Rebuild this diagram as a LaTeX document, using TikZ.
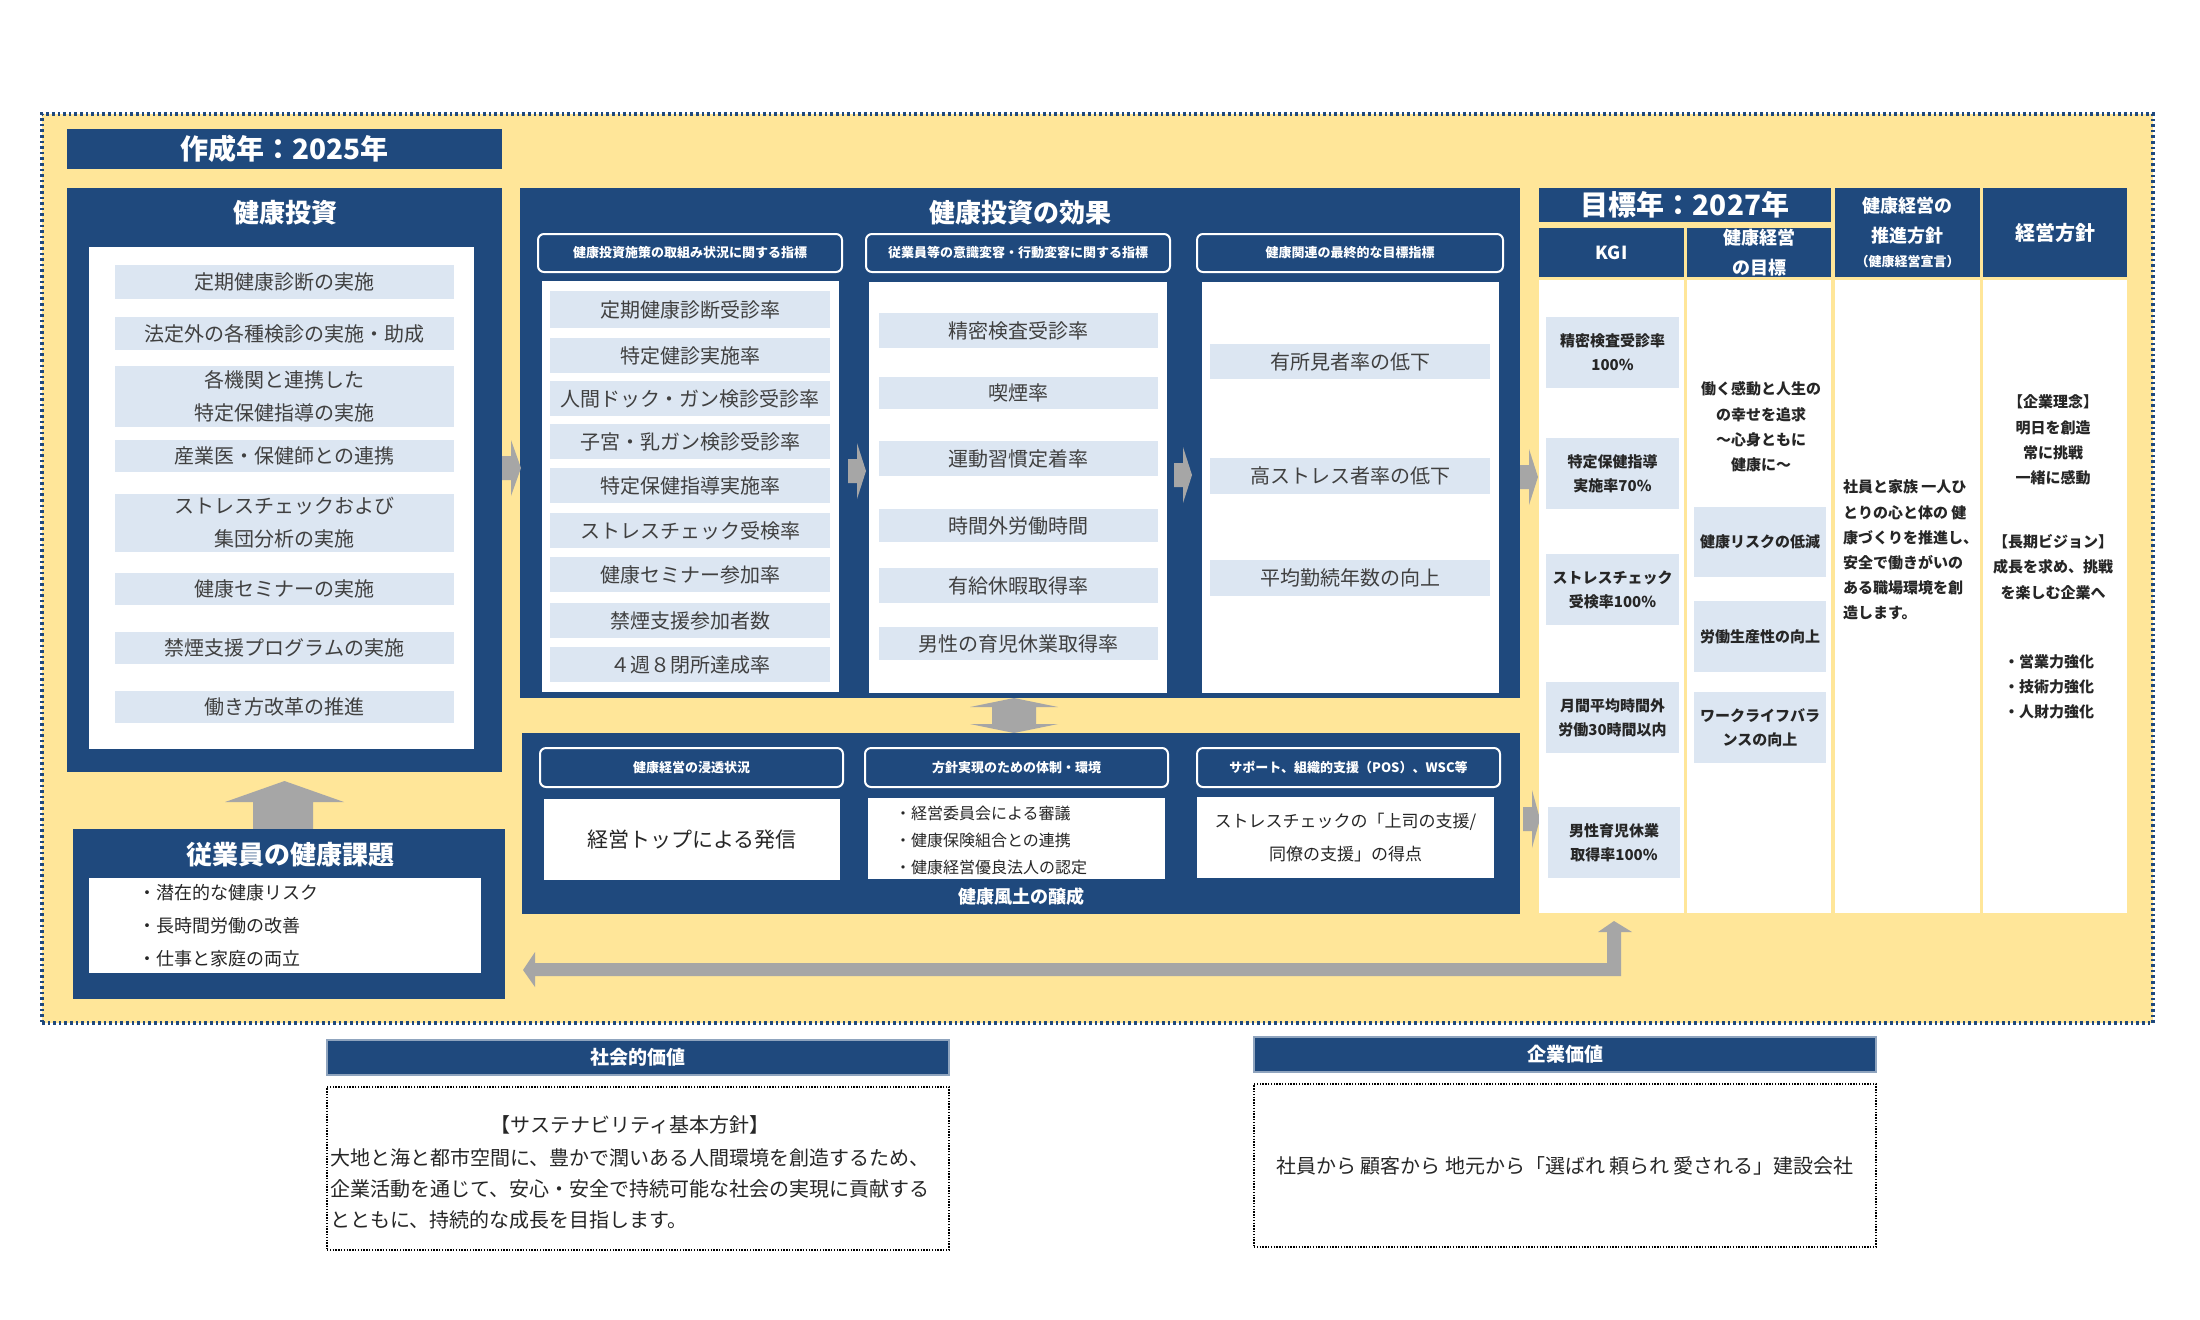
\documentclass[tikz,border=0pt]{standalone}
\usepackage{fontspec}
\setmainfont{Noto Sans CJK JP}
\definecolor{navy}{HTML}{1F497D}
\definecolor{lblue}{HTML}{DCE6F2}
\definecolor{ylw}{HTML}{FFE699}
\definecolor{agray}{HTML}{A6A6A6}
\definecolor{txt}{HTML}{404040}
\definecolor{dtxt}{HTML}{262626}
\newcommand\mybox[7][]{\node[#1, minimum width={(#5-#3)*0.5pt}, minimum height={(#6-#4)*0.5pt}] (#2) at ({(#3+#5)/2},{(#4+#6)/2}) {#7};}
\tikzset{
 base/.style={inner sep=0pt, outer sep=0pt, draw=none},
 navybox/.style={base, fill=navy},
 whitebox/.style={base, fill=white},
 item/.style={base, fill=lblue, text=txt, font=\fontsize{10}{16.5}\selectfont, align=center},
 kitem/.style={base, fill=lblue, text=dtxt, font=\fontsize{7.5}{12}\selectfont\bfseries, align=center},
 subhdr/.style={base, fill=navy, draw=white, line width=1pt, rounded corners=3pt, text=white, font=\fontsize{6.5}{8}\selectfont\bfseries},
 ttl/.style={base, text=white, font=\fontsize{13}{15}\selectfont\bfseries},
 hdr/.style={base, fill=navy, text=white, font=\fontsize{9}{15}\selectfont\bfseries, align=center},
 rtxt/.style={base, text=dtxt, font=\fontsize{7.5}{12.6}\selectfont\bfseries},
 arr/.style={fill=agray, draw=none},
 dotbox/.style={base, draw=black, line width=0.7pt, dash pattern=on 0.7pt off 0.7pt, fill=white},
}
\begin{document}
\begin{tikzpicture}[x=0.5pt,y=-0.5pt]
\useasboundingbox (0,0) rectangle (2200,1319);
% outer frame
\mybox[base, fill=ylw, draw=navy, line width=1.6pt, dash pattern=on 1.3pt off 1.5pt]{outer}{42}{114}{2153}{1023}{}
% ---------------- left
\mybox[navybox, text=white, font=\fontsize{14}{16}\selectfont\bfseries]{sakusei}{67}{129}{502}{169}{作成年：2025年}
\mybox[navybox]{toushi}{67}{188}{502}{772}{}
\node[ttl] (toushit) at (285,213) {健康投資};
\mybox[whitebox]{toushiw}{89}{247}{474}{749}{}
\mybox[item]{L1}{115}{265}{454}{299}{定期健康診断の実施}
\mybox[item]{L2}{115}{317}{454}{350}{法定外の各種検診の実施・助成}
\mybox[item]{L3}{115}{366}{454}{427}{各機関と連携した\\特定保健指導の実施}
\mybox[item]{L4}{115}{440}{454}{472}{産業医・保健師との連携}
\mybox[item]{L5}{115}{494}{454}{552}{ストレスチェックおよび\\集団分析の実施}
\mybox[item]{L6}{115}{573}{454}{605}{健康セミナーの実施}
\mybox[item]{L7}{115}{632}{454}{664}{禁煙支援プログラムの実施}
\mybox[item]{L8}{115}{691}{454}{723}{働き方改革の推進}
% up arrow
\fill[arr] (284.5,781) -- (344,802) -- (313,802) -- (313,829) -- (253,829) -- (253,802) -- (225,802) -- cycle;
% employee issues
\mybox[navybox]{kadai}{73}{829}{505}{999}{}
\node[ttl] (kadait) at (290,855) {従業員の健康課題};
\mybox[whitebox]{kadaiw}{89}{878}{481}{973}{}
\node[base, anchor=west, text=dtxt, font=\fontsize{9}{16.5}\selectfont, align=left] (kadaitx) at (138,926) {・潜在的な健康リスク\\・長時間労働の改善\\・仕事と家庭の両立};
% ---------------- middle top
\mybox[navybox]{kouka}{520}{188}{1520}{698}{}
\node[ttl] (koukat) at (1020,213) {健康投資の効果};
\mybox[subhdr]{S1}{538}{234}{842}{272}{健康投資施策の取組み状況に関する指標}
\mybox[subhdr]{S2}{866}{234}{1170}{272}{従業員等の意識変容・行動変容に関する指標}
\mybox[subhdr]{S3}{1197}{234}{1503}{272}{健康関連の最終的な目標指標}
\mybox[whitebox]{W1}{542}{281}{839}{692}{}
\mybox[whitebox]{W2}{869}{282}{1167}{693}{}
\mybox[whitebox]{W3}{1202}{282}{1499}{693}{}
\mybox[item]{A1}{550}{291}{830}{328}{定期健康診断受診率}
\mybox[item]{A2}{550}{338}{830}{373}{特定健診実施率}
\mybox[item]{A3}{550}{381}{830}{416}{人間ドック・ガン検診受診率}
\mybox[item]{A4}{550}{424}{830}{459}{子宮・乳ガン検診受診率}
\mybox[item]{A5}{550}{468}{830}{503}{特定保健指導実施率}
\mybox[item]{A6}{550}{513}{830}{548}{ストレスチェック受検率}
\mybox[item]{A7}{550}{557}{830}{592}{健康セミナー参加率}
\mybox[item]{A8}{550}{603}{830}{638}{禁煙支援参加者数}
\mybox[item]{A9}{550}{647}{830}{682}{４週８閉所達成率}
\mybox[item]{B1}{879}{313}{1158}{348}{精密検査受診率}
\mybox[item]{B2}{879}{377}{1158}{409}{喫煙率}
\mybox[item]{B3}{879}{441}{1158}{476}{運動習慣定着率}
\mybox[item]{B4}{879}{509}{1158}{542}{時間外労働時間}
\mybox[item]{B5}{879}{568}{1158}{603}{有給休暇取得率}
\mybox[item]{B6}{879}{627}{1158}{660}{男性の育児休業取得率}
\mybox[item]{C1}{1210}{344}{1490}{379}{有所見者率の低下}
\mybox[item]{C2}{1210}{458}{1490}{494}{高ストレス者率の低下}
\mybox[item]{C3}{1210}{560}{1490}{596}{平均勤続年数の向上}
% right block arrows
\fill[arr] (502,456) -- (511,456) -- (511,440) -- (521,468) -- (511,496) -- (511,480) -- (502,480) -- cycle;
\fill[arr] (848,459) -- (857,459) -- (857,443) -- (866,471) -- (857,499) -- (857,483) -- (848,483) -- cycle;
\fill[arr] (1174,463) -- (1183,463) -- (1183,447) -- (1192,475) -- (1183,503) -- (1183,487) -- (1174,487) -- cycle;
\fill[arr] (1520,465) -- (1529,465) -- (1529,449) -- (1538,477) -- (1529,505) -- (1529,489) -- (1520,489) -- cycle;
% double arrow
\fill[arr] (1014,698) -- (1058,707) -- (1036,707) -- (1036,724) -- (1058,724) -- (1014,733) -- (970,724) -- (992,724) -- (992,707) -- (970,707) -- cycle;
% ---------------- middle bottom
\mybox[navybox]{fudo}{522}{733}{1520}{914}{}
\mybox[subhdr]{D1}{540}{748}{843}{787}{健康経営の浸透状況}
\mybox[subhdr]{D2}{865}{748}{1168}{787}{方針実現のための体制・環境}
\mybox[subhdr]{D3}{1197}{748}{1500}{787}{サポート、組織的支援（POS）、WSC等}
\mybox[whitebox, text=dtxt, font=\fontsize{10.5}{12}\selectfont]{E1}{544}{799}{840}{880}{経営トップによる発信}
\mybox[whitebox]{E2}{868}{798}{1165}{879}{}
\node[base, anchor=west, text=dtxt, font=\fontsize{8}{13.5}\selectfont, align=left] (E2t) at (895,840) {・経営委員会による審議\\・健康保険組合との連携\\・健康経営優良法人の認定};
\mybox[whitebox, text=dtxt, font=\fontsize{8.5}{16.5}\selectfont, align=center]{E3}{1197}{797}{1494}{878}{ストレスチェックの「上司の支援/\\同僚の支援」の得点}
\node[base, text=white, font=\fontsize{9}{11}\selectfont\bfseries] (fudot) at (1021,897) {健康風土の醸成};
\fill[arr] (1523,807) -- (1532,807) -- (1532,790) -- (1540,819) -- (1532,848) -- (1532,831) -- (1523,831) -- cycle;
% feedback arrow
\fill[arr] (1614,921) -- (1632,932) -- (1621,932) -- (1621,976) -- (535,976) -- (535,987) -- (523,970) -- (535,952) -- (535,963) -- (1607,963) -- (1607,932) -- (1598,932) -- cycle;
% ---------------- right table
\mybox[navybox, text=white, font=\fontsize{14}{16}\selectfont\bfseries]{mokuhyo}{1539}{188}{1831}{222}{目標年：2027年}
\mybox[hdr]{H1}{1539}{228}{1684}{277}{KGI}
\mybox[hdr]{H2}{1687}{228}{1831}{277}{健康経営\\の目標}
\mybox[hdr]{H3}{1835}{188}{1980}{277}{健康経営の\\推進方針\\[-3pt]{\fontsize{6.5}{8}\selectfont（健康経営宣言）}}
\mybox[hdr, font=\fontsize{10}{12}\selectfont\bfseries]{H4}{1983}{188}{2127}{277}{経営方針}
\mybox[whitebox]{G1}{1539}{280}{1684}{913}{}
\mybox[whitebox]{G2}{1687}{280}{1831}{913}{}
\mybox[whitebox]{G3}{1835}{280}{1980}{913}{}
\mybox[whitebox]{G4}{1983}{280}{2127}{913}{}
\mybox[kitem]{K1}{1546}{317}{1679}{388}{精密検査受診率\\100\%}
\mybox[kitem]{K2}{1546}{438}{1679}{509}{特定保健指導\\実施率70\%}
\mybox[kitem]{K3}{1546}{554}{1679}{625}{ストレスチェック\\受検率100\%}
\mybox[kitem]{K4}{1546}{682}{1679}{753}{月間平均時間外\\労働30時間以内}
\mybox[kitem]{K5}{1548}{807}{1680}{878}{男性育児休業\\取得率100\%}
\node[rtxt, align=center] (M0) at (1761,427) {働く感動と人生の\\の幸せを追求\\～心身ともに\\健康に～};
\mybox[kitem]{M1}{1694}{507}{1826}{577}{健康リスクの低減}
\mybox[kitem]{M2}{1694}{601}{1826}{672}{労働生産性の向上}
\mybox[kitem]{M3}{1694}{692}{1826}{763}{ワークライフバラ\\ンスの向上}
\node[rtxt, anchor=west, align=left] (P0) at (1843,550) {社員と家族 一人ひ\\とりの心と体の 健\\康づくりを推進し、\\安全で働きがいの\\ある職場環境を創\\造します。};
\node[rtxt, align=center] (Q1) at (2053,440) {【企業理念】\\明日を創造\\常に挑戦\\一緒に感動};
\node[rtxt, align=center] (Q2) at (2053,567) {【長期ビジョン】\\成長を求め、挑戦\\を楽しむ企業へ};
\node[rtxt, anchor=west, align=left] (Q3) at (2004,687) {・営業力強化\\・技術力強化\\・人財力強化};
% ---------------- bottom values
\mybox[navybox, draw=navy!50, line width=0.6pt, text=white, font=\fontsize{9.5}{11}\selectfont\bfseries]{shakai}{327}{1040}{949}{1075}{社会的価値}
\mybox[dotbox]{shakaiw}{327}{1087}{949}{1250}{}
\node[base, text=dtxt, font=\fontsize{10}{12}\selectfont] (shakait1) at (630,1125) {【サステナビリティ基本方針】};
\node[base, anchor=west, text=dtxt, font=\fontsize{10}{15.5}\selectfont, align=left] (shakait2) at (330,1189) {大地と海と都市空間に、豊かで潤いある人間環境を創造するため、\\企業活動を通じて、安心・安全で持続可能な社会の実現に貢献する\\とともに、持続的な成長を目指します。};
\mybox[navybox, draw=navy!50, line width=0.6pt, text=white, font=\fontsize{9.5}{11}\selectfont\bfseries]{kigyo}{1254}{1037}{1876}{1072}{企業価値}
\mybox[dotbox, text=dtxt, font=\fontsize{10}{12}\selectfont]{kigyow}{1254}{1084}{1876}{1247}{社員から 顧客から 地元から「選ばれ 頼られ 愛される」建設会社}
\end{tikzpicture}
\end{document}
